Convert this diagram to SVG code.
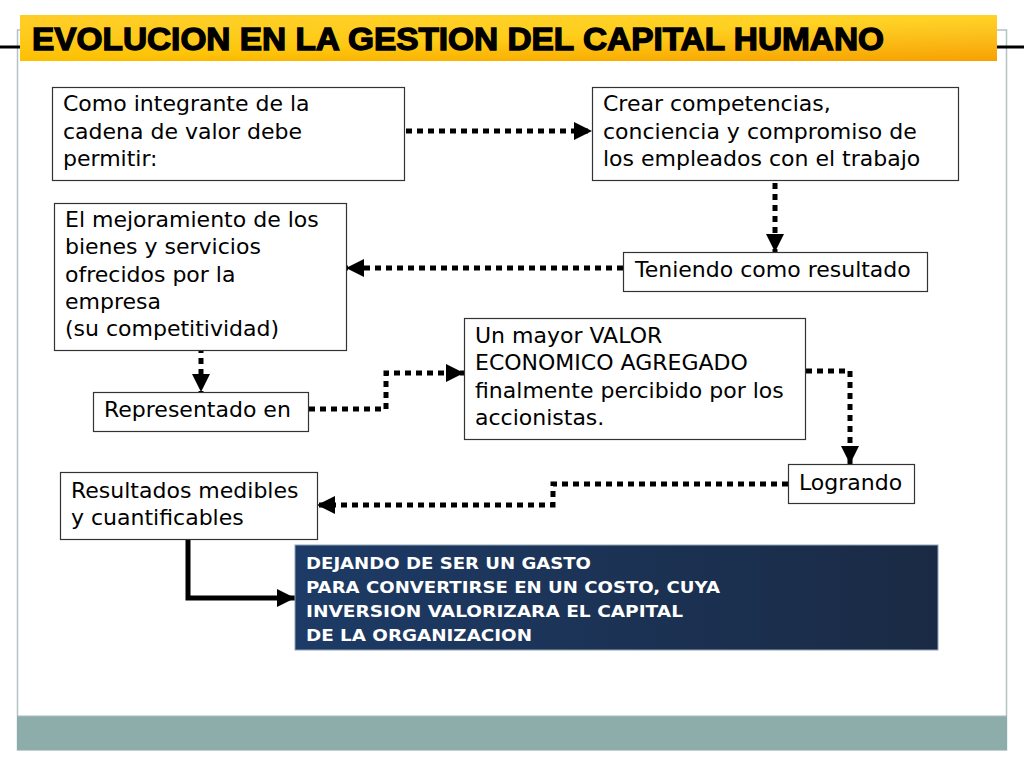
<svg xmlns="http://www.w3.org/2000/svg" width="1024" height="768" viewBox="0 0 1024 768">
<defs>
<linearGradient id="gTitle" x1="0" y1="0" x2="1" y2="1">
<stop offset="0" stop-color="#FFC400"/>
<stop offset="0.5" stop-color="#FFCC00"/>
<stop offset="1" stop-color="#F8A300"/>
</linearGradient>
<linearGradient id="gTitleV" x1="0" y1="0" x2="0" y2="1">
<stop offset="0" stop-color="#FFFFFF" stop-opacity="0.15"/>
<stop offset="1" stop-color="#F39A00" stop-opacity="0.25"/>
</linearGradient>
<linearGradient id="gBlue" x1="0" y1="0" x2="1" y2="0">
<stop offset="0" stop-color="#1D3B66"/>
<stop offset="1" stop-color="#1A2A44"/>
</linearGradient>
<marker id="arr" markerUnits="userSpaceOnUse" markerWidth="20" markerHeight="18" refX="18" refY="9" orient="auto" viewBox="0 0 20 18">
<path d="M0,0 L18,9 L0,18 z" fill="#000"/>
</marker>
<style>
.box{fill:#fff;stroke:#333;stroke-width:1.2}
.t{font-family:"DejaVu Sans",Verdana,sans-serif;font-size:22px;fill:#000}
.w{font-family:"DejaVu Sans","Liberation Sans",sans-serif;font-size:16px;font-weight:bold;fill:#fff}
.dot{fill:none;stroke:#000;stroke-width:5;stroke-dasharray:6 5}
.solid{fill:none;stroke:#000;stroke-width:5}
</style>
</defs>
<rect x="0" y="0" width="1024" height="768" fill="#fff"/>
<rect id="frame" x="17.5" y="30" width="989" height="720" fill="#fff" stroke="#B3C2C2" stroke-width="1.5"/>
<rect x="17" y="716" width="990" height="34" fill="#8DADAB"/>
<line x1="17" y1="716" x2="1007" y2="716" stroke="#A7BEBD" stroke-width="1"/>
<g id="title">
<line x1="0" y1="47" x2="1024" y2="47" stroke="#000" stroke-width="3"/>
<rect x="20" y="15" width="977" height="46" fill="url(#gTitle)"/>
<rect x="20" y="15" width="977" height="46" fill="url(#gTitleV)"/>
<text x="32" y="50" font-family="'Liberation Sans',Arial,sans-serif" font-size="31" font-weight="bold" fill="#000" stroke="#000" stroke-width="1.3" textLength="852" lengthAdjust="spacingAndGlyphs">EVOLUCION EN LA GESTION DEL CAPITAL HUMANO</text>
</g>
<g id="connectors">
<path class="dot" d="M406,131 H592" marker-end="url(#arr)"/>
<path class="dot" d="M775,172 V252" marker-end="url(#arr)"/>
<path class="dot" d="M623,268 H346" marker-end="url(#arr)"/>
<path class="dot" d="M201,336 V392" marker-end="url(#arr)"/>
<path class="dot" d="M309,409 H386 V373 H464" marker-end="url(#arr)"/>
<path class="dot" d="M806,371 H850 V464" marker-end="url(#arr)"/>
<path class="dot" d="M788,484 H553 V505 H317" marker-end="url(#arr)"/>
<path class="solid" d="M188,539 V598 H295" marker-end="url(#arr)"/>
</g>
<g id="n1">
<rect class="box" x="52.5" y="87.5" width="352" height="93"/>
<text class="t" x="63" y="111">Como integrante de la</text>
<text class="t" x="63" y="139">cadena de valor debe</text>
<text class="t" x="63" y="166">permitir:</text>
</g>
<g id="n2">
<rect class="box" x="592.5" y="87.5" width="366" height="93"/>
<text class="t" x="603" y="111">Crear competencias,</text>
<text class="t" x="603" y="139">conciencia y compromiso de</text>
<text class="t" x="603" y="166">los empleados con el trabajo</text>
</g>
<g id="n3">
<rect class="box" x="54.5" y="203.5" width="292" height="147"/>
<text class="t" x="65" y="227">El mejoramiento de los</text>
<text class="t" x="65" y="254">bienes y servicios</text>
<text class="t" x="65" y="282">ofrecidos por la</text>
<text class="t" x="65" y="309">empresa</text>
<text class="t" x="65" y="336">(su competitividad)</text>
</g>
<g id="n4">
<rect class="box" x="623.5" y="252.5" width="304" height="39"/>
<text class="t" x="635" y="277">Teniendo como resultado</text>
</g>
<g id="n5">
<rect class="box" x="464.5" y="318.5" width="341" height="121"/>
<text class="t" x="475" y="343">Un mayor VALOR</text>
<text class="t" x="475" y="370">ECONOMICO AGREGADO</text>
<text class="t" x="475" y="398">finalmente percibido por los</text>
<text class="t" x="475" y="425">accionistas.</text>
</g>
<g id="n6">
<rect class="box" x="93.5" y="392.5" width="215" height="39"/>
<text class="t" x="104" y="417">Representado en</text>
</g>
<g id="n7">
<rect class="box" x="788.5" y="464.5" width="126" height="39"/>
<text class="t" x="799" y="490">Logrando</text>
</g>
<g id="n8">
<rect class="box" x="60.5" y="472.5" width="257" height="67"/>
<text class="t" x="71" y="498">Resultados medibles</text>
<text class="t" x="71" y="525">y cuantificables</text>
</g>
<g id="n9">
<rect x="295" y="545" width="643" height="105" fill="url(#gBlue)" stroke="#8FA3B5" stroke-width="1"/>
<text class="w" x="306" y="569" textLength="285" lengthAdjust="spacingAndGlyphs">DEJANDO DE SER UN GASTO</text>
<text class="w" x="306" y="593" textLength="414" lengthAdjust="spacingAndGlyphs">PARA CONVERTIRSE EN UN COSTO, CUYA</text>
<text class="w" x="306" y="617" textLength="377" lengthAdjust="spacingAndGlyphs">INVERSION VALORIZARA EL CAPITAL</text>
<text class="w" x="306" y="641" textLength="226" lengthAdjust="spacingAndGlyphs">DE LA ORGANIZACION</text>
</g>
</svg>
